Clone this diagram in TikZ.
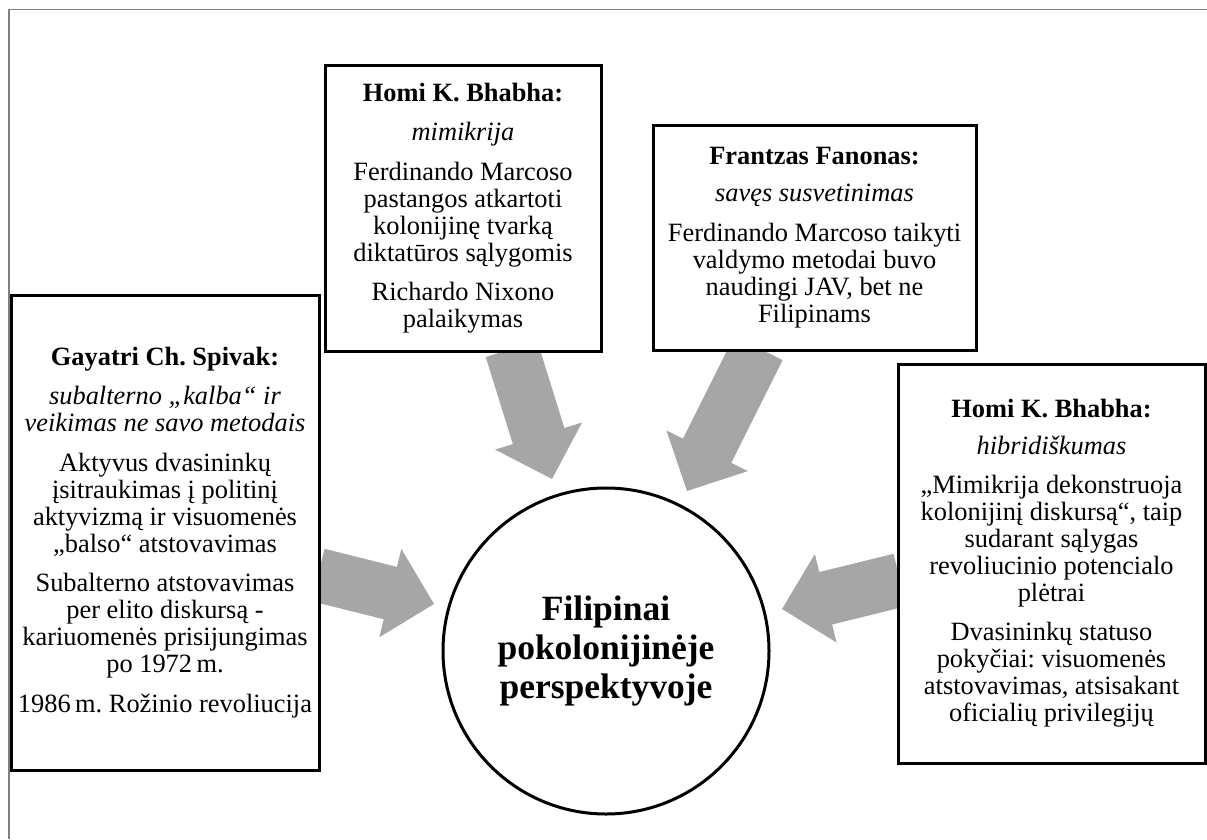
\documentclass[tikz,border=0pt]{standalone}
\usepackage{fontspec}
\setmainfont{Liberation Serif}
\usetikzlibrary{calc,backgrounds}
\frenchspacing
\definecolor{arrowgray}{HTML}{A6A6A6}
\definecolor{framegray}{HTML}{808080}
\tikzset{
  box/.style={draw, line width=3pt, fill=white, inner sep=0pt, align=center,
    font=\frenchspacing\fontsize{26.4}{27}\selectfont},
  hub/.style={draw, circle, line width=3pt, fill=white, inner sep=0pt, align=center,
    minimum size=326pt, font=\fontsize{35.5}{39}\selectfont\bfseries},
  framestyle/.style={draw=framegray, line width=1.6pt}
}
\newcommand\blockarr[2]{%
  \coordinate (hb) at ($(#2)!45pt!(#1)$);
  \fill[arrowgray] ($(#1)!27pt!90:(#2)$) -- ($(hb)!27pt!-90:(#1)$)
    -- ($(hb)!45.5pt!-90:(#1)$) -- (#2) -- ($(hb)!45.5pt!90:(#1)$)
    -- ($(hb)!27pt!90:(#1)$) -- ($(#1)!27pt!-90:(#2)$) -- cycle;%
}
\begin{document}
\begin{tikzpicture}[x=1pt,y=-1pt]
\useasboundingbox (0,0) rectangle (1207,839);
\path[framestyle] (9,839) -- (9,9.5) -- (1207,9.5);

% boxes
\node[box, minimum width=308pt, minimum height=475pt] (spivak) at (165,532.5) {%
  {\bfseries Gayatri Ch. Spivak:}\\[12.5pt]
  \textit{subalterno „kalba“ ir}\\
  \textit{veikimas ne savo metodais}\\[12.5pt]
  Aktyvus dvasininkų\\
  įsitraukimas į politinį\\
  aktyvizmą ir visuomenės\\
  „balso“ atstovavimas\\[12.5pt]
  Subalterno atstovavimas\\
  per elito diskursą -\\
  kariuomenės prisijungimas\\
  po 1972\,m.\\[12.5pt]
  1986\,m. Rožinio revoliucija};

\node[box, minimum width=276pt, minimum height=286pt] (mimikrija) at (463,208) {%
  {\bfseries Homi K. Bhabha:}\\[12.5pt]
  \textit{mimikrija}\\[12.5pt]
  Ferdinando Marcoso\\
  pastangos atkartoti\\
  kolonijinę tvarką\\
  diktatūros sąlygomis\\[12.5pt]
  Richardo Nixono\\
  palaikymas};

\node[box, minimum width=323pt, minimum height=225pt] (fanon) at (814.5,237.5) {%
  {\bfseries Frantzas Fanonas:}\\[10pt]
  \textit{savęs susvetinimas}\\[12.5pt]
  Ferdinando Marcoso taikyti\\
  valdymo metodai buvo\\
  naudingi JAV, bet ne\\
  Filipinams};

\node[box, minimum width=307pt, minimum height=399pt] (hibrid) at (1051.5,563.5) {%
  {\bfseries Homi K. Bhabha:}\\[10pt]
  \textit{hibridiškumas}\\[12pt]
  „Mimikrija dekonstruoja\\
  kolonijinį diskursą“, taip\\
  sudarant sąlygas\\
  revoliucinio potencialo\\
  plėtrai\\[12pt]
  Dvasininkų statuso\\
  pokyčiai: visuomenės\\
  atstovavimas, atsisakant\\
  oficialių privilegijų};

\node[hub] (center) at (606,651) {Filipinai\\ pokolonijinėje\\ perspektyvoje};

% arrow end points
\coordinate (aLs) at (318,575);
\coordinate (aLe) at (434,604);
\coordinate (aTLs) at (511.5,349);
\coordinate (aTLe) at (552,479);
\coordinate (aTRs) at (758.5,348);
\coordinate (aTRe) at (687,491);
\coordinate (aRs) at (900,580);
\coordinate (aRe) at (782,609);

\begin{pgfonlayer}{background}
  \blockarr{aLs}{aLe}
  \blockarr{aTLs}{aTLe}
  \blockarr{aTRs}{aTRe}
  \blockarr{aRs}{aRe}
\end{pgfonlayer}
\end{tikzpicture}
\end{document}
